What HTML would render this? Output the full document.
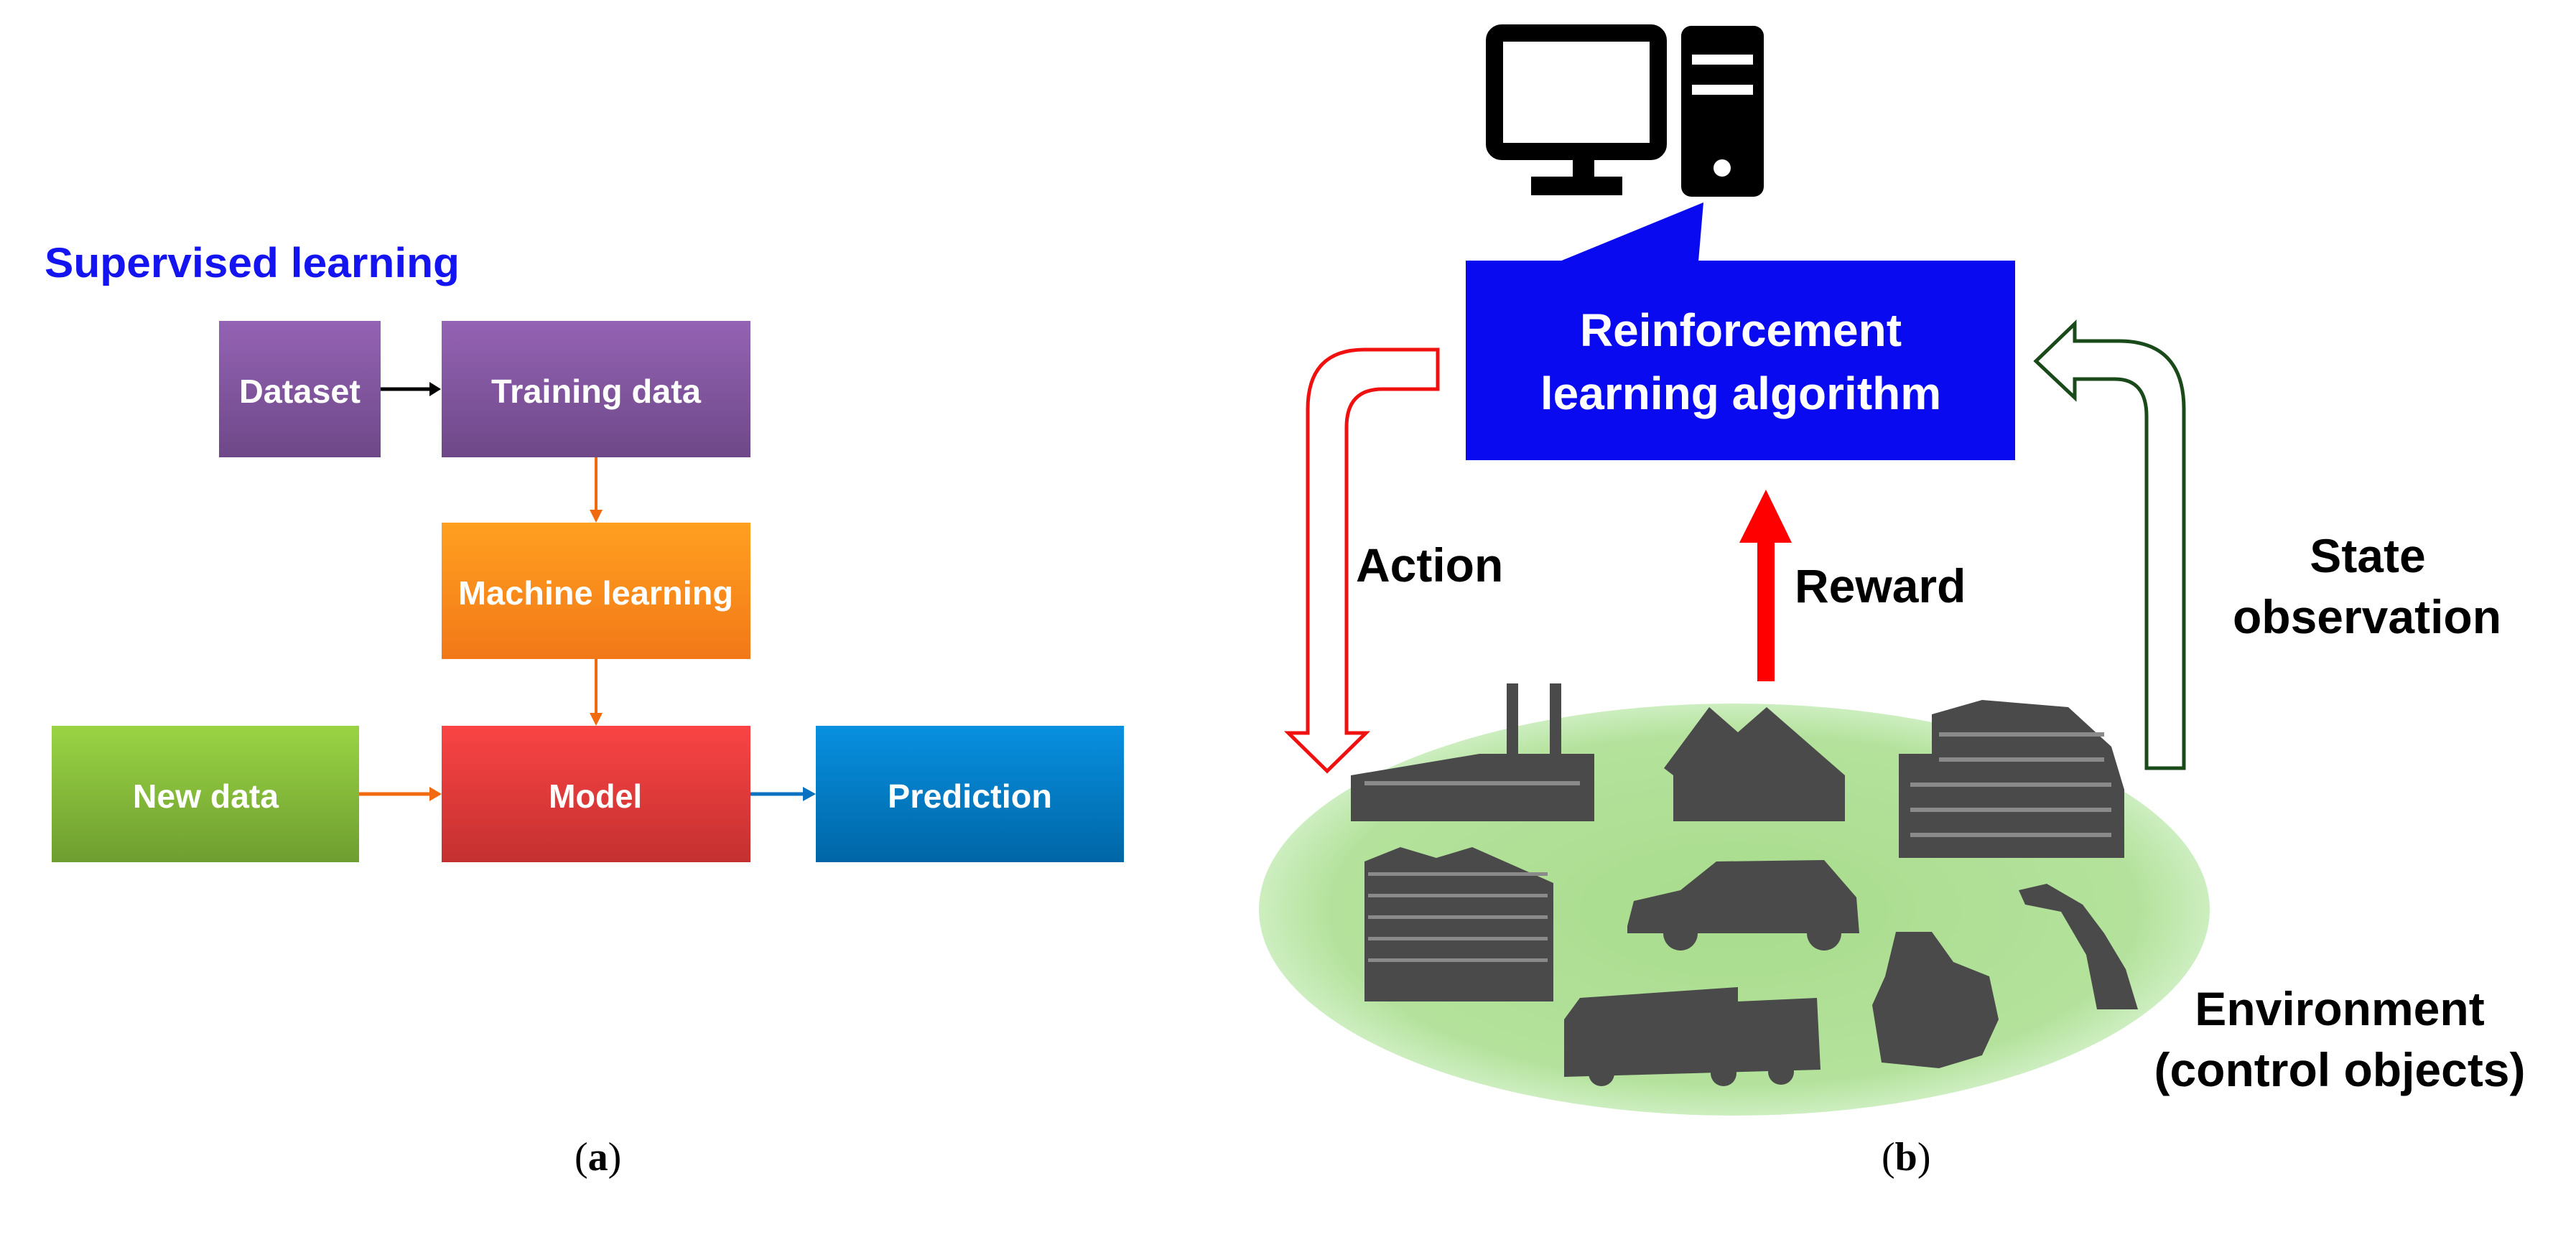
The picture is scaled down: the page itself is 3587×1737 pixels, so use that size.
<!DOCTYPE html>
<html><head><meta charset="utf-8"><style>
html,body{margin:0;padding:0;background:#fff;}
svg{display:block;}
text{font-family:"Liberation Sans",sans-serif;font-weight:bold;}
</style></head><body>
<svg width="3587" height="1737" viewBox="0 0 3587 1737" xmlns="http://www.w3.org/2000/svg">
<defs>
<linearGradient id="gp" x1="0" y1="0" x2="0" y2="1"><stop offset="0" stop-color="#9463b4"/><stop offset="1" stop-color="#6e4888"/></linearGradient>
<linearGradient id="go" x1="0" y1="0" x2="0" y2="1"><stop offset="0" stop-color="#ffa020"/><stop offset="1" stop-color="#f27818"/></linearGradient>
<linearGradient id="gg" x1="0" y1="0" x2="0" y2="1"><stop offset="0" stop-color="#9ad444"/><stop offset="1" stop-color="#6e9e30"/></linearGradient>
<linearGradient id="gr" x1="0" y1="0" x2="0" y2="1"><stop offset="0" stop-color="#fa4444"/><stop offset="1" stop-color="#c43030"/></linearGradient>
<linearGradient id="gb" x1="0" y1="0" x2="0" y2="1"><stop offset="0" stop-color="#0890e0"/><stop offset="1" stop-color="#0066a6"/></linearGradient>
<radialGradient id="ge" cx="0.5" cy="0.5" r="0.5"><stop offset="0" stop-color="#a8dc8c"/><stop offset="0.85" stop-color="#b4e29c"/><stop offset="1" stop-color="#cdeec0"/></radialGradient>
</defs>

<!-- (a) -->
<text x="62" y="386" font-size="58" fill="#1414f0" textLength="578" lengthAdjust="spacingAndGlyphs">Supervised learning</text>
<g>
<rect x="305" y="447" width="225" height="190" fill="url(#gp)"/>
<rect x="615" y="447" width="430" height="190" fill="url(#gp)"/>
<rect x="615" y="728" width="430" height="190" fill="url(#go)"/>
<rect x="72" y="1011" width="428" height="190" fill="url(#gg)"/>
<rect x="615" y="1011" width="430" height="190" fill="url(#gr)"/>
<rect x="1136" y="1011" width="429" height="190" fill="url(#gb)"/>
</g>
<g fill="#fff" font-size="46">
<text x="333" y="561" textLength="169" lengthAdjust="spacingAndGlyphs">Dataset</text>
<text x="684" y="561" textLength="292" lengthAdjust="spacingAndGlyphs">Training data</text>
<text x="638" y="842" textLength="383" lengthAdjust="spacingAndGlyphs">Machine learning</text>
<text x="185" y="1125" textLength="203" lengthAdjust="spacingAndGlyphs">New data</text>
<text x="764" y="1125" textLength="130" lengthAdjust="spacingAndGlyphs">Model</text>
<text x="1236" y="1125" textLength="229" lengthAdjust="spacingAndGlyphs">Prediction</text>
</g>
<line x1="530" y1="542" x2="600" y2="542" stroke="#000" stroke-width="5"/>
<polygon points="598,532 614,542 598,552" fill="#000"/>
<line x1="830" y1="637" x2="830" y2="712" stroke="#f26a10" stroke-width="4"/>
<polygon points="821,710 830,728 839,710" fill="#f26a10"/>
<line x1="830" y1="918" x2="830" y2="995" stroke="#f26a10" stroke-width="4"/>
<polygon points="821,993 830,1011 839,993" fill="#f26a10"/>
<line x1="500" y1="1106" x2="600" y2="1106" stroke="#f26a10" stroke-width="5"/>
<polygon points="598,1096 615,1106 598,1116" fill="#f26a10"/>
<line x1="1045" y1="1106" x2="1120" y2="1106" stroke="#0a72c0" stroke-width="5"/>
<polygon points="1118,1096 1136,1106 1118,1116" fill="#0a72c0"/>

<text x="800" y="1630" font-size="56" style="font-family:'Liberation Serif',serif;font-weight:normal">(<tspan style="font-weight:bold">a</tspan>)</text>
<text x="2620" y="1630" font-size="56" style="font-family:'Liberation Serif',serif;font-weight:normal">(<tspan style="font-weight:bold">b</tspan>)</text>

<ellipse cx="2415" cy="1267" rx="662" ry="287" fill="url(#ge)"/>

<rect x="2081" y="46" width="228" height="165" rx="10" fill="none" stroke="#000" stroke-width="24"/>
<rect x="2190" y="215" width="30" height="35" fill="#000"/>
<rect x="2132" y="246" width="127" height="26" fill="#000"/>
<rect x="2341" y="36" width="115" height="238" rx="14" fill="#000"/>
<rect x="2356" y="76" width="85" height="14" fill="#fff"/>
<rect x="2356" y="118" width="85" height="14" fill="#fff"/>
<circle cx="2398" cy="234" r="12" fill="#fff"/>

<polygon points="2172,364 2372,282 2365,364" fill="#0a0af0"/>
<rect x="2041" y="363" width="765" height="278" fill="#0a0af0"/>
<text x="2424" y="482" font-size="64" fill="#fff" text-anchor="middle">Reinforcement</text>
<text x="2424" y="570" font-size="64" fill="#fff" text-anchor="middle">learning algorithm</text>

<path d="M2002,487 L1900,487 Q1821,487 1821,570 L1821,1021 L1794,1021 L1848,1074 L1902,1021 L1875,1021 L1875,595 Q1875,542 1925,542 L2002,542 Z" fill="#fff" stroke="#f01010" stroke-width="5"/>
<path d="M2989,1070 L3041,1070 L3041,570 Q3041,475 2950,475 L2889,475 L2889,451 L2835,503 L2889,554 L2889,528 L2945,528 Q2989,528 2989,580 Z" fill="#fff" stroke="#1a4a1a" stroke-width="5"/>
<rect x="2447" y="745" width="24" height="204" fill="#f00"/>
<polygon points="2422,756 2459,682 2495,756" fill="#f00"/>

<g font-size="66" fill="#000">
<text x="1888" y="810">Action</text>
<text x="2499" y="839">Reward</text>
<text x="3297" y="797" text-anchor="middle">State</text>
<text x="3296" y="882" text-anchor="middle">observation</text>
<text x="3258" y="1428" text-anchor="middle">Environment</text>
<text x="3258" y="1513" text-anchor="middle">(control objects)</text>
</g>

<g fill="#4a4a4a">
<rect x="2098" y="952" width="16" height="110"/>
<rect x="2158" y="952" width="16" height="110"/>
<polygon points="1881,1080 2060,1050 2220,1050 2220,1144 1881,1144"/>
<polygon points="2317,1070 2380,985 2420,1020 2460,985 2569,1080 2569,1144 2330,1144 2330,1080"/>
<polygon points="2644,1050 2690,1050 2690,995 2760,975 2880,985 2940,1040 2958,1100 2958,1195 2644,1195"/>
<polygon points="1900,1200 1950,1180 2000,1195 2050,1180 2163,1230 2163,1395 1900,1395"/>
<path d="M2266,1290 L2275,1255 L2340,1240 L2390,1200 L2540,1198 L2585,1250 L2589,1300 L2266,1300 Z"/>
<circle cx="2340" cy="1300" r="24"/><circle cx="2540" cy="1300" r="24"/>
<path d="M2178,1420 L2200,1390 L2420,1375 L2420,1395 L2530,1390 L2535,1490 L2178,1500 Z"/>
<circle cx="2230" cy="1495" r="18"/><circle cx="2400" cy="1495" r="18"/><circle cx="2480" cy="1493" r="18"/>
<path d="M2640,1298 L2690,1298 L2720,1340 L2770,1360 L2783,1420 L2760,1470 L2700,1488 L2620,1480 L2607,1400 L2625,1360 Z"/>
<path d="M2811,1240 L2850,1231 L2900,1260 L2930,1300 L2960,1350 L2977,1406 L2920,1406 L2905,1330 L2870,1270 L2820,1260 Z"/>
</g>
<g fill="#8a8a8a">
<rect x="1905" y="1215" width="250" height="5"/><rect x="1905" y="1245" width="250" height="5"/>
<rect x="1905" y="1275" width="250" height="5"/><rect x="1905" y="1305" width="250" height="5"/>
<rect x="1905" y="1335" width="250" height="5"/>
<rect x="1900" y="1088" width="300" height="6"/>
<rect x="2700" y="1020" width="230" height="6"/><rect x="2700" y="1055" width="230" height="6"/>
<rect x="2660" y="1090" width="280" height="6"/><rect x="2660" y="1125" width="280" height="6"/>
<rect x="2660" y="1160" width="280" height="6"/>
</g>
</svg>
</body></html>
